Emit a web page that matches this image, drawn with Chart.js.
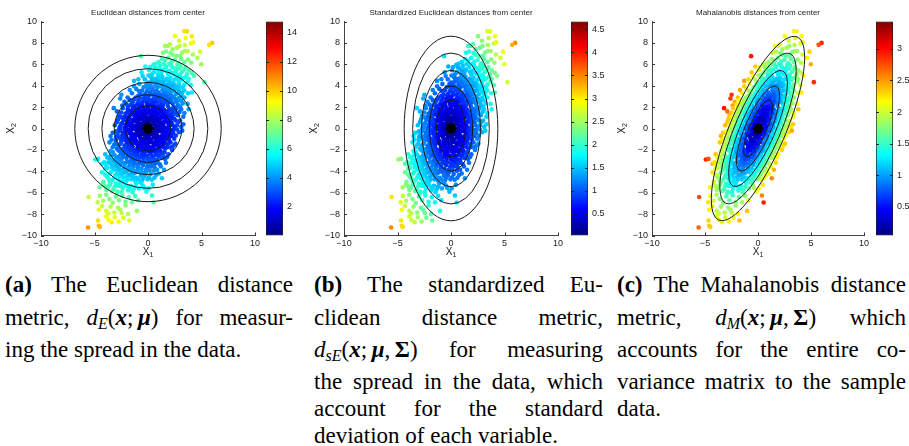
<!DOCTYPE html>
<html>
<head>
<meta charset="utf-8">
<script src="https://cdn.jsdelivr.net/npm/chart.js@4.4.0/dist/chart.umd.min.js"></script>
<style>
  body { margin: 0; background: #fff; width: 909px; height: 446px; overflow: hidden; position: relative; }
  canvas { position: absolute; top: 0; }
  .cap { position: absolute; top: 0; font-family: "Liberation Serif", "Times New Roman", serif; font-size: 23px; color: #000; }
  .cap div { position: absolute; left: 0; width: 100%; height: 26px; line-height: 26px; text-align: justify; text-align-last: justify; }
  .cap div.end { text-align-last: left; }
  .mx { display: inline-block; white-space: nowrap; }
  .m { font-style: italic; }
  .bm { font-style: italic; font-weight: bold; }
  .cap sub { font-size: 16px; vertical-align: -4px; line-height: 0; }
</style>
</head>
<body>
<canvas id="pa" width="285" height="262"></canvas>
<canvas id="pb" width="285" height="262"></canvas>
<canvas id="pc" width="285" height="262"></canvas>
<canvas id="ca" width="43" height="262"></canvas>
<canvas id="cb" width="43" height="262"></canvas>
<canvas id="cc" width="43" height="262"></canvas>

<div class="cap" style="left:5px;width:288px">
  <div style="top:272px"><b>(a)</b> The Euclidean distance</div>
  <div style="top:305px">metric, <span class="mx"><span class="m">d</span><sub class="m">E</sub>(<span class="bm">x</span>;&#8201;<span class="bm">μ</span>)</span> for measur-</div>
  <div class="end" style="top:337px">ing the spread in the data.</div>
</div>
<div class="cap" style="left:314px;width:289px">
  <div style="top:272px"><b>(b)</b> The standardized Eu-</div>
  <div style="top:305px">clidean distance metric,</div>
  <div style="top:337px"><span class="mx"><span class="m">d</span><sub class="m">sE</sub>(<span class="bm">x</span>;&#8201;<span class="bm">μ</span>,&#8201;<b>Σ</b>)</span> for measuring</div>
  <div style="top:369px">the spread in the data, which</div>
  <div style="top:396px">account for the standard</div>
  <div class="end" style="top:423px">deviation of each variable.</div>
</div>
<div class="cap" style="left:617px;width:289px">
  <div style="top:272px"><b>(c)</b> The Mahalanobis distance</div>
  <div style="top:305px">metric, <span class="mx"><span class="m">d</span><sub class="m">M</sub>(<span class="bm">x</span>;&#8201;<span class="bm">μ</span>,&#8201;<b>Σ</b>)</span> which</div>
  <div style="top:337px">accounts for the entire co-</div>
  <div style="top:369px">variance matrix to the sample</div>
  <div class="end" style="top:396px">data.</div>
</div>

<script>
// sample cloud (x1, x2)
const samples = [
  [3.4,9.1],[3.64,9.08],[2.52,8.63],[4.1,8.62],[3.52,8.45],[4.0,7.95],[4.22,8.05],[3.45,7.8],[6.0,8.0],[5.72,7.82],[2.9,8.2],
  [1.6,7.7],[1.85,7.72],[2.06,7.88],[1.7,7.2],[1.4,7.08],[2.3,7.4],[2.7,7.55],[3.2,7.1],[3.45,7.25],[3.7,7.22],[4.86,7.18],[2.95,7.7],[2.1,7.05],[4.2,6.92],
  [-0.65,6.76],[2.3,6.9],[2.65,6.78],[4.62,6.6],[1.0,6.2],[1.3,6.5],[1.6,6.35],[1.9,6.6],[2.2,6.25],[2.5,6.4],[2.85,6.1],[3.1,6.5],[3.4,6.2],[3.75,6.45],[4.05,6.15],[4.98,6.0],[0.7,6.05],[1.45,6.05],[2.0,6.05],[3.0,6.8],
  [-0.25,5.8],[0.2,5.75],[0.5,5.95],[0.8,5.6],[1.1,5.85],[1.4,5.5],[1.7,5.75],[2.0,5.4],[2.3,5.7],[2.6,5.35],[2.9,5.6],[3.2,5.3],[3.5,5.75],[3.8,5.45],[4.1,5.2],[1.25,5.2],[1.9,5.05],[2.45,5.05],[-0.6,5.25],[0.55,5.25],[3.0,5.05],[1.55,5.95],[2.75,5.95],[0.95,5.1],
  [0.1,5.45],[0.65,5.7],[1.2,5.45],[1.75,5.3],[2.15,5.9],[2.55,5.6],[3.05,5.85],[3.35,5.5],[1.0,5.35],[2.25,5.2],[0.35,5.05],[3.65,5.1],
  [-1.3,4.45],[-0.8,4.15],[-0.3,4.6],[0.0,4.3],[0.3,4.8],[0.55,4.4],[0.85,4.7],[1.1,4.2],[1.35,4.85],[1.6,4.5],[1.85,4.1],[2.1,4.75],[2.35,4.35],[2.6,4.65],[2.9,4.2],[3.15,4.55],[3.4,4.1],[3.7,4.4],[4.3,4.92],[5.27,4.33],[0.15,4.05],[0.7,4.05],[1.2,4.5],[1.95,4.45],[2.75,4.95],[3.55,4.85],[-0.5,4.9],[1.5,4.0],[2.5,4.05],[3.0,4.8],[0.4,4.55],[4.0,4.05],
  [0.05,4.95],[0.6,4.65],[1.0,4.9],[1.45,4.25],[1.75,4.65],[2.2,4.15],[2.45,4.55],[2.85,4.45],[3.3,4.7],[-0.15,4.15],[0.9,4.35],[2.0,4.3],[1.3,4.7],[-0.9,4.6],[3.8,4.65],[0.25,4.3],
  [-2.49,3.15],[-1.5,3.3],[-1.1,3.7],[-0.7,3.2],[-0.4,3.85],[-0.1,3.5],[0.15,3.1],[0.4,3.7],[0.65,3.3],[0.9,3.85],[1.1,3.15],[1.35,3.6],[1.6,3.05],[1.85,3.75],[2.1,3.35],[2.35,3.9],[2.6,3.2],[2.85,3.65],[3.1,3.1],[3.4,3.55],[3.75,3.3],[4.1,3.37],[-0.9,3.05],[-0.25,3.25],[0.3,3.95],[0.8,3.5],[1.25,3.95],[1.7,3.45],[2.2,3.05],[2.5,3.6],[3.0,3.9],[0.5,3.15],[1.45,3.3],[-0.55,3.55],[2.0,3.6],[3.25,3.8],
  [-1.3,3.95],[-0.85,3.5],[-0.35,3.05],[0.05,3.75],[0.55,3.55],[1.0,3.35],[1.55,3.8],[1.9,3.2],[2.3,3.5],[2.7,3.85],[3.2,3.35],[-1.7,3.6],[0.2,3.35],[0.75,3.95],[1.35,3.1],[2.15,3.95],[2.9,3.4],[-0.15,3.95],[0.95,3.05],[1.8,3.95],
  [-2.2,2.5],[-1.9,2.9],[-1.6,2.2],[-1.3,2.7],[-1.0,2.3],[-0.75,2.85],[-0.5,2.1],[-0.25,2.6],[0.0,2.95],[0.2,2.25],[0.45,2.7],[0.7,2.05],[0.9,2.5],[1.15,2.9],[1.4,2.2],[1.6,2.65],[1.85,2.1],[2.05,2.8],[2.3,2.35],[2.55,2.75],[2.8,2.2],[3.1,2.6],[3.4,2.9],[3.7,2.3],[-1.87,2.03],[-0.9,2.6],[-0.1,2.35],[0.6,2.9],[1.3,2.55],[1.95,2.45],[2.65,2.5],[0.3,2.55],[-0.4,2.75],[1.05,2.15],[1.75,2.95],[2.4,2.05],[-1.45,2.45],[0.8,2.75],[3.0,2.05],[0.05,2.1],
  [-2.6,2.8],[-2.0,2.25],[-1.7,2.65],[-1.15,2.9],[-0.8,2.2],[-0.55,2.45],[-0.2,2.85],[0.1,2.65],[0.4,2.15],[0.65,2.5],[1.0,2.7],[1.25,2.3],[1.5,2.95],[1.75,2.4],[2.15,2.6],[2.4,2.9],[2.75,2.6],[3.25,2.35],[-1.25,2.1],[-0.05,2.15],[0.55,2.35],[1.9,2.75],[2.9,2.85],[-2.4,2.15],[0.85,2.05],[1.45,2.5],
  [-3.2,1.9],[-2.5,1.5],[-2.2,1.1],[-1.9,1.75],[-1.65,1.3],[-1.4,1.9],[-1.15,1.05],[-0.9,1.6],[-0.65,1.2],[-0.4,1.85],[-0.15,1.4],[0.1,1.05],[0.3,1.7],[0.55,1.25],[0.8,1.9],[1.0,1.45],[1.25,1.1],[1.5,1.75],[1.75,1.3],[2.0,1.85],[2.25,1.15],[2.5,1.6],[2.8,1.25],[3.1,1.8],[3.8,1.8],[-2.0,1.05],[-1.2,1.55],[-0.5,1.05],[0.2,1.4],[0.9,1.15],[1.6,1.45],[2.3,1.5],[-0.8,1.95],[0.45,1.95],[1.35,1.95],[-2.7,1.2],[-0.3,1.6],[0.7,1.55],[1.9,1.05],[2.65,1.9],[-1.6,1.65],[0.0,1.75],[1.15,1.7],[-1.0,1.3],[3.3,1.1],
  [-2.9,1.6],[-2.35,1.9],[-2.1,1.4],[-1.75,1.05],[-1.5,1.5],[-1.3,1.25],[-1.05,1.85],[-0.75,1.4],[-0.55,1.65],[-0.25,1.15],[-0.05,1.9],[0.15,1.55],[0.4,1.15],[0.65,1.75],[0.85,1.35],[1.1,1.95],[1.35,1.35],[1.55,1.1],[1.8,1.6],[2.05,1.3],[2.35,1.85],[2.6,1.35],[2.95,1.55],[-1.9,1.5],[-0.95,1.1],[0.5,1.45],[1.25,1.55],[2.15,1.65],[-0.4,1.35],[0.95,1.8],[-2.5,1.05],[3.4,1.45],
  [-2.9,0.6],[-2.6,0.2],[-2.3,0.8],[-2.05,0.35],[-1.8,0.9],[-1.55,0.1],[-1.3,0.65],[-1.05,0.3],[-0.8,0.85],[-0.55,0.15],[-0.3,0.6],[-0.05,0.95],[0.2,0.3],[0.45,0.75],[0.7,0.1],[0.95,0.6],[1.2,0.95],[1.45,0.25],[1.7,0.7],[1.95,0.15],[2.2,0.55],[2.45,0.9],[2.7,0.3],[3.0,0.75],[3.3,0.4],[-2.68,0.0],[-1.9,0.55],[-1.2,0.95],[-0.6,0.45],[0.1,0.65],[0.6,0.4],[1.3,0.55],[1.9,0.45],[2.5,0.05],[-0.2,0.2],[0.85,0.85],[-1.6,0.45],[0.35,0.05],[1.6,0.95],[-0.95,0.1],[2.05,0.8],[-2.4,0.5],[0.55,0.95],[-0.45,0.8],[1.05,0.2],[2.85,0.6],[-1.4,0.25],[0.0,0.45],
  [-3.1,0.3],[-2.8,0.85],[-2.5,0.45],[-2.2,0.1],[-1.95,0.7],[-1.7,0.3],[-1.45,0.8],[-1.15,0.05],[-0.9,0.55],[-0.65,0.95],[-0.4,0.35],[-0.15,0.75],[0.05,0.15],[0.3,0.85],[0.5,0.5],[0.75,0.25],[1.0,0.8],[1.25,0.35],[1.5,0.6],[1.75,0.05],[2.0,0.6],[2.3,0.3],[2.6,0.75],[-2.0,0.15],[-1.05,0.7],[-0.25,0.5],[0.65,0.65],[1.4,0.05],[2.15,0.95],[-0.75,0.25],[0.2,0.9],[1.1,0.45],[-1.8,0.6],[3.1,0.15],
  [-3.3,-0.4],[-3.0,-0.8],[-2.7,-0.25],[-2.45,-0.7],[-2.2,-0.15],[-1.95,-0.95],[-1.7,-0.45],[-1.45,-0.05],[-1.2,-0.75],[-0.95,-0.3],[-0.7,-0.9],[-0.45,-0.5],[-0.2,-0.1],[0.05,-0.65],[0.3,-0.25],[0.55,-0.85],[0.8,-0.4],[1.05,-0.05],[1.3,-0.7],[1.55,-0.3],[1.8,-0.9],[2.05,-0.45],[2.3,-0.15],[2.6,-0.65],[2.9,-0.35],[-2.85,-0.55],[-2.1,-0.5],[-1.35,-0.55],[-0.6,-0.2],[0.15,-0.9],[0.9,-0.7],[1.65,-0.6],[2.45,-0.95],[-1.85,-0.2],[-0.25,-0.75],[0.45,-0.55],[1.2,-0.25],[-1.0,-0.6],[1.95,-0.1],[-2.5,-0.95],[-0.05,-0.35],[0.65,-0.15],[-1.55,-0.8],[2.2,-0.7],[-0.85,-0.05],[1.45,-0.95],[-0.35,-0.95],[3.2,-0.2],
  [-3.0,-0.25],[-2.7,-0.85],[-2.35,-0.4],[-2.05,-0.7],[-1.8,-0.15],[-1.55,-0.6],[-1.3,-0.95],[-1.05,-0.45],[-0.8,-0.7],[-0.55,-0.05],[-0.3,-0.45],[-0.1,-0.85],[0.2,-0.5],[0.4,-0.1],[0.7,-0.6],[0.95,-0.25],[1.15,-0.85],[1.4,-0.5],[1.7,-0.2],[2.0,-0.75],[2.35,-0.4],[2.7,-0.1],[-2.3,-0.9],[-1.6,-0.3],[-0.65,-0.55],[0.1,-0.3],[0.8,-0.95],[1.55,-0.75],[-1.1,-0.15],[0.55,-0.35],[-0.2,-0.6],[-2.6,-0.05],[1.85,-0.5],[-3.5,-0.7],
  [-3.6,-1.3],[-3.3,-1.75],[-3.0,-1.1],[-2.75,-1.6],[-2.5,-1.25],[-2.25,-1.9],[-2.0,-1.45],[-1.75,-1.05],[-1.5,-1.7],[-1.25,-1.3],[-1.0,-1.95],[-0.75,-1.5],[-0.5,-1.1],[-0.25,-1.8],[0.0,-1.35],[0.25,-1.05],[0.5,-1.65],[0.75,-1.25],[1.0,-1.9],[1.25,-1.45],[1.5,-1.1],[1.8,-1.75],[2.1,-1.3],[2.4,-1.6],[2.56,-1.4],[-2.9,-1.9],[-2.1,-1.1],[-1.35,-1.95],[-0.6,-1.6],[0.1,-1.7],[0.85,-1.55],[1.6,-1.4],[-1.85,-1.65],[-0.35,-1.2],[0.4,-1.3],[1.15,-1.15],[-2.6,-1.45],[-1.1,-1.15],[0.65,-1.95],[1.95,-1.05],[-0.85,-1.75],[-3.15,-1.5],[2.25,-1.95],[-1.6,-1.35],[0.2,-1.95],
  [-3.4,-1.05],[-3.05,-1.45],[-2.8,-1.85],[-2.45,-1.05],[-2.2,-1.6],[-1.95,-1.25],[-1.7,-1.9],[-1.45,-1.45],[-1.2,-1.05],[-0.95,-1.6],[-0.7,-1.2],[-0.45,-1.85],[-0.2,-1.45],[0.05,-1.1],[0.3,-1.8],[0.55,-1.35],[0.8,-1.05],[1.05,-1.65],[1.3,-1.25],[1.6,-1.85],[1.85,-1.45],[2.15,-1.75],[-2.55,-1.95],[-1.55,-1.15],[-0.5,-1.4],[0.45,-1.95],[1.4,-1.7],[-1.05,-1.4],[0.15,-1.25],[-2.0,-1.8],[0.9,-1.35],[-0.05,-1.9],
  [-4.0,-2.4],[-3.6,-2.8],[-3.3,-2.2],[-3.0,-2.65],[-2.75,-2.05],[-2.5,-2.9],[-2.25,-2.35],[-2.0,-2.75],[-1.75,-2.15],[-1.5,-2.6],[-1.25,-2.95],[-1.0,-2.3],[-0.75,-2.7],[-0.5,-2.1],[-0.25,-2.55],[0.0,-2.9],[0.25,-2.3],[0.5,-2.75],[0.75,-2.15],[1.0,-2.6],[1.3,-2.3],[1.6,-2.85],[1.9,-2.4],[2.25,-2.0],[-4.92,-2.9],[-4.67,-2.84],[-3.45,-2.5],[-2.6,-2.5],[-1.9,-2.45],[-1.1,-2.65],[-0.4,-2.85],[0.35,-2.55],[1.15,-2.05],[-2.95,-2.95],[-1.6,-2.05],[-0.6,-2.4],[0.1,-2.15],[0.85,-2.9],[-2.35,-2.05],[-1.35,-2.35],[1.45,-2.6],
  [-3.8,-2.7],[-3.5,-2.1],[-3.15,-2.45],[-2.85,-2.85],[-2.55,-2.2],[-2.3,-2.65],[-2.05,-2.1],[-1.8,-2.55],[-1.55,-2.9],[-1.3,-2.15],[-1.05,-2.5],[-0.8,-2.05],[-0.55,-2.65],[-0.3,-2.2],[-0.05,-2.55],[0.2,-2.85],[0.45,-2.1],[0.7,-2.45],[0.95,-2.15],[1.25,-2.75],[1.55,-2.2],[1.8,-2.65],[-2.7,-2.7],[-1.95,-2.25],[-1.2,-2.8],[-0.45,-2.45],[0.3,-2.05],[1.05,-2.4],[-3.3,-2.95],[-0.95,-2.9],[0.6,-2.95],[-1.65,-2.4],
  [-4.3,-3.3],[-4.0,-3.75],[-3.7,-3.15],[-3.4,-3.6],[-3.1,-3.05],[-2.85,-3.9],[-2.6,-3.4],[-2.35,-3.85],[-2.1,-3.2],[-1.85,-3.65],[-1.6,-3.1],[-1.35,-3.55],[-1.1,-3.95],[-0.85,-3.3],[-0.6,-3.75],[-0.35,-3.15],[-0.1,-3.6],[0.15,-3.9],[0.4,-3.3],[0.65,-3.7],[0.9,-3.15],[1.2,-3.55],[1.68,-3.2],[1.5,-3.85],[-3.9,-3.45],[-3.0,-3.55],[-2.2,-3.6],[-1.45,-3.35],[-0.7,-3.1],[0.0,-3.25],[0.55,-3.95],[-2.7,-3.1],[-1.95,-3.95],[-0.95,-3.7],[0.3,-3.55],
  [-4.1,-3.15],[-3.8,-3.7],[-3.5,-3.25],[-3.2,-3.85],[-2.95,-3.3],[-2.7,-3.7],[-2.45,-3.15],[-2.2,-3.35],[-1.95,-3.1],[-1.7,-3.4],[-1.45,-3.8],[-1.2,-3.25],[-0.95,-3.55],[-0.7,-3.95],[-0.45,-3.4],[-0.2,-3.85],[0.05,-3.45],[0.3,-3.05],[0.55,-3.5],[0.85,-3.85],[1.1,-3.35],[-2.5,-3.95],[-1.75,-3.85],[-0.55,-3.25],[0.7,-3.25],[-3.3,-3.4],
  [-4.3,-4.1],[-4.15,-4.97],[-3.85,-4.5],[-3.55,-4.2],[-3.3,-4.8],[-3.05,-4.35],[-2.8,-4.7],[-2.55,-4.15],[-2.3,-4.6],[-2.05,-4.95],[-1.8,-4.3],[-1.55,-4.75],[-1.3,-4.2],[-1.05,-4.6],[-0.8,-4.05],[-0.55,-4.85],[-0.3,-4.4],[-0.05,-4.75],[0.25,-4.25],[0.6,-4.6],[1.0,-4.2],[1.3,-4.65],[-3.6,-4.9],[-2.65,-4.45],[-1.95,-4.5],[-1.2,-4.9],[-0.4,-4.15],[0.1,-4.55],
  [-4.0,-4.3],[-3.7,-4.65],[-3.45,-4.05],[-3.15,-4.55],[-2.9,-4.2],[-2.65,-4.85],[-2.4,-4.3],[-2.15,-4.1],[-1.9,-4.75],[-1.65,-4.35],[-1.4,-4.55],[-1.15,-4.1],[-0.9,-4.75],[-0.65,-4.4],[-0.2,-4.1],[0.35,-4.8],[0.75,-4.35],[-2.25,-4.95],[-1.5,-4.05],[-0.45,-4.6],
  [-4.52,-5.5],[-4.2,-5.2],[-3.9,-5.75],[-3.6,-5.3],[-3.35,-5.85],[-3.1,-5.4],[-2.85,-5.9],[-2.6,-5.15],[-2.35,-5.6],[-2.1,-5.25],[-1.85,-5.8],[-1.6,-5.35],[-1.35,-5.7],[-1.1,-5.15],[-0.85,-5.6],[-0.5,-5.3],[-0.15,-5.9],[0.06,-5.6],[0.45,-5.25],[-2.45,-5.95],[-3.75,-5.55],[-1.9,-5.45],
  [-4.0,-5.4],[-3.5,-5.1],[-3.2,-5.65],[-2.75,-5.35],[-2.2,-5.05],[-1.75,-5.6],[-1.2,-5.45],[-0.7,-5.05],[-2.5,-5.4],[-1.45,-5.95],[-0.35,-5.55],[-3.0,-5.15],
  [-5.55,-6.4],[-4.5,-6.3],[-4.2,-6.75],[-3.9,-6.2],[-3.6,-6.6],[-3.3,-6.95],[-3.0,-6.35],[-2.7,-6.7],[-2.4,-6.25],[-2.1,-6.85],[-1.8,-6.4],[-1.5,-6.9],[-1.2,-6.3],[-0.9,-6.7],[0.37,-6.26],[0.53,-6.92],[-2.9,-6.05],[-4.7,-6.9],
  [-4.6,-7.6],[-4.3,-7.25],[-3.9,-7.7],[-3.5,-7.3],[-3.15,-7.85],[-2.8,-7.4],[-2.45,-7.9],[-2.1,-7.2],[-1.87,-8.0],[-1.03,-7.7],[-3.7,-7.95],[-2.6,-7.6],
  [-4.67,-8.6],[-4.6,-9.1],[-4.5,-9.2],[-3.9,-8.2],[-3.4,-8.75],[-3.1,-8.3],[-2.75,-8.7],[-2.3,-8.35],[-1.75,-8.6],[-5.6,-9.25],[-3.7,-8.55]
];

const center = [0, 0];
const covariance = [[4.43, 6.70], [6.70, 17.2]];
const contourLevels = [0.64, 0.96, 1.31, 1.70, 2.08];

const panelTitles = [
  'Euclidean distances from center',
  'Standardized Euclidean distances from center',
  'Mahalanobis distances from center'
];
const colorRanges = [[0.03, 14.78], [0.03, 4.67], [0.05, 3.43]];
const colorTicks = [
  [2, 4, 6, 8, 10, 12, 14],
  [0.5, 1, 1.5, 2, 2.5, 3, 3.5, 4, 4.5],
  [0.5, 1, 1.5, 2, 2.5, 3]
];
const xTicks = [-10, -5, 0, 5, 10];
const yTicks = [-10, -8, -6, -4, -2, 0, 2, 4, 6, 8, 10];

// layout of the three panels (pixels)
const plotLeft = [41, 344, 652];
const plotWidth = [214, 214, 212];
const cbLeft = [266, 571, 876];
const PLOT_TOP = 21.5, X_AXIS_H = 26.5, Y_AXIS_W = 41, CB_W = 17;

const FONT = '"Liberation Sans", Arial, sans-serif';

function jet(t) {
  t = Math.min(1, Math.max(0, t));
  const c = v => Math.round(255 * Math.min(1, Math.max(0, v)));
  return `rgb(${c(1.5 - Math.abs(4 * t - 3))},${c(1.5 - Math.abs(4 * t - 2))},${c(1.5 - Math.abs(4 * t - 1))})`;
}

const sx = Math.sqrt(covariance[0][0]);
const sy = Math.sqrt(covariance[1][1]);
const det = covariance[0][0] * covariance[1][1] - covariance[0][1] * covariance[1][0];
const inv = [[covariance[1][1] / det, -covariance[0][1] / det], [-covariance[1][0] / det, covariance[0][0] / det]];

const metrics = [
  (dx, dy) => Math.hypot(dx, dy),
  (dx, dy) => Math.hypot(dx / sx, dy / sy),
  (dx, dy) => Math.sqrt(dx * dx * inv[0][0] + 2 * dx * dy * inv[0][1] + dy * dy * inv[1][1])
];

// contour shapes: semi axes (a, b) and rotation for each metric
const tr = covariance[0][0] + covariance[1][1];
const disc = Math.sqrt((covariance[0][0] - covariance[1][1]) ** 2 / 4 + covariance[0][1] ** 2);
const lam1 = tr / 2 + disc, lam2 = tr / 2 - disc;
const theta = Math.atan2(lam1 - covariance[0][0], covariance[0][1]);
const isoScale = Math.sqrt(tr / 2);
const contourShapes = [
  contourLevels.map(k => ({ a: k * isoScale, b: k * isoScale, angle: 0 })),
  contourLevels.map(k => ({ a: k * sx, b: k * sy, angle: 0 })),
  contourLevels.map(k => ({ a: k * Math.sqrt(lam1), b: k * Math.sqrt(lam2), angle: theta }))
];

const fmt = v => (v < 0 ? '\u2212' + Math.abs(v) : String(v));

function drawSubLabel(ctx, main, sub, x, y, rot) {
  ctx.save();
  ctx.translate(x, y);
  ctx.rotate(rot);
  ctx.fillStyle = '#222';
  ctx.font = `10px ${FONT}`;
  const w1 = ctx.measureText(main).width;
  ctx.font = `7px ${FONT}`;
  const w2 = ctx.measureText(sub).width;
  const x0 = -(w1 + w2) / 2;
  ctx.textBaseline = 'middle';
  ctx.textAlign = 'left';
  ctx.font = `10px ${FONT}`;
  ctx.fillText(main, x0, 0);
  ctx.font = `7px ${FONT}`;
  ctx.fillText(sub, x0 + w1, 3);
  ctx.restore();
}

const panelDeco = {
  id: 'panelDeco',
  beforeDatasetDraw(chart, args, opts) {
    if (args.index !== 0) return;
    const { ctx, chartArea: ca, scales: { x, y } } = chart;
    const cx = x.getPixelForValue(center[0]);
    const cy = y.getPixelForValue(center[1]);
    ctx.save();
    ctx.beginPath();
    ctx.rect(ca.left, ca.top, ca.right - ca.left, ca.bottom - ca.top);
    ctx.clip();
    ctx.strokeStyle = '#1a1a1a';
    ctx.lineWidth = 1;
    opts.shapes.forEach(s => {
      // axis lengths measured along the rotated directions
      const ax = x.getPixelForValue(center[0] + s.a * Math.cos(s.angle)) - cx;
      const ay = cy - y.getPixelForValue(center[1] + s.a * Math.sin(s.angle));
      const bx = x.getPixelForValue(center[0] - s.b * Math.sin(s.angle)) - cx;
      const by = cy - y.getPixelForValue(center[1] + s.b * Math.cos(s.angle));
      ctx.beginPath();
      ctx.ellipse(cx, cy, Math.hypot(ax, ay), Math.hypot(bx, by), -s.angle, 0, Math.PI * 2);
      ctx.stroke();
    });
    ctx.restore();
  },
  afterDraw(chart, args, opts) {
    const { ctx, chartArea: ca, scales: { x, y } } = chart;
    ctx.save();
    ctx.strokeStyle = '#333';
    ctx.lineWidth = 1;
    ctx.beginPath();
    yTicks.forEach(v => {
      const py = Math.round(y.getPixelForValue(v)) + 0.5;
      ctx.moveTo(ca.left, py); ctx.lineTo(ca.left + 3, py);
    });
    xTicks.forEach(v => {
      const px = Math.round(x.getPixelForValue(v)) + 0.5;
      ctx.moveTo(px, ca.bottom); ctx.lineTo(px, ca.bottom - 3);
    });
    ctx.stroke();
    ctx.fillStyle = '#222';
    ctx.font = `8px ${FONT}`;
    ctx.textAlign = 'center';
    ctx.textBaseline = 'middle';
    ctx.fillText(opts.title, (ca.left + ca.right) / 2, 13);
    ctx.restore();
    drawSubLabel(ctx, 'X', '1', (ca.left + ca.right) / 2, 252, 0);
    drawSubLabel(ctx, 'X', '2', 11, (ca.top + ca.bottom) / 2, -Math.PI / 2);
  }
};

const colorbarDeco = {
  id: 'colorbarDeco',
  afterDraw(chart, args, opts) {
    const { ctx, chartArea: ca, scales: { y } } = chart;
    ctx.save();
    ctx.strokeStyle = '#222';
    ctx.lineWidth = 1;
    ctx.beginPath();
    opts.ticks.forEach(v => {
      const py = Math.round(y.getPixelForValue(v)) + 0.5;
      ctx.moveTo(ca.left, py); ctx.lineTo(ca.left + 3, py);
      ctx.moveTo(ca.right, py); ctx.lineTo(ca.right - 3, py);
    });
    ctx.stroke();
    ctx.restore();
  }
};

function tickFont() {
  return { family: FONT, size: 9 };
}

function buildPanel(i) {
  const canvas = document.getElementById(['pa', 'pb', 'pc'][i]);
  const rightPad = 30;
  canvas.width = Y_AXIS_W + plotWidth[i] + rightPad;
  canvas.style.left = (plotLeft[i] - Y_AXIS_W) + 'px';
  const [lo, hi] = colorRanges[i];
  const pts = samples.map(([px, py]) => ({ x: px, y: py }));
  const colors = samples.map(([px, py]) => jet((metrics[i](px - center[0], py - center[1]) - lo) / (hi - lo)));

  new Chart(canvas, {
    type: 'scatter',
    data: {
      datasets: [
        {
          data: [{ x: center[0], y: center[1] }],
          pointStyle: 'star', pointRadius: 5.5, borderColor: '#000', borderWidth: 2.6, backgroundColor: '#000'
        },
        {
          data: pts,
          pointRadius: 2.3, pointBorderWidth: 0, pointBackgroundColor: colors, pointBorderColor: colors
        }
      ]
    },
    options: {
      responsive: false, animation: false, devicePixelRatio: 1, events: [],
      layout: { padding: { top: PLOT_TOP, right: rightPad, bottom: 0, left: 0 } },
      plugins: {
        legend: { display: false }, tooltip: { enabled: false },
        panelDeco: { shapes: contourShapes[i], title: panelTitles[i] }
      },
      scales: {
        x: {
          type: 'linear', min: -10, max: 10,
          afterBuildTicks: s => { s.ticks = xTicks.map(v => ({ value: v })); },
          afterFit: s => { s.height = X_AXIS_H; },
          grid: { drawOnChartArea: false, drawTicks: false },
          border: { color: '#444' },
          ticks: { padding: 3, font: tickFont(), color: '#222', maxRotation: 0, callback: v => fmt(v) }
        },
        y: {
          type: 'linear', min: -10, max: 10,
          afterBuildTicks: s => { s.ticks = yTicks.map(v => ({ value: v })); },
          afterFit: s => { s.width = Y_AXIS_W; },
          grid: { drawOnChartArea: false, drawTicks: false },
          border: { color: '#444' },
          ticks: { padding: 4, font: tickFont(), color: '#222', callback: v => fmt(v) }
        }
      }
    },
    plugins: [panelDeco]
  });
}

function buildColorbar(i) {
  const canvas = document.getElementById(['ca', 'cb', 'cc'][i]);
  canvas.style.left = cbLeft[i] + 'px';
  const [lo, hi] = colorRanges[i];
  new Chart(canvas, {
    type: 'bar',
    data: {
      labels: [''],
      datasets: [{
        data: [[lo, hi]],
        backgroundColor: c => {
          const ca = c.chart.chartArea;
          if (!ca) return '#00f';
          const g = c.chart.ctx.createLinearGradient(0, ca.bottom, 0, ca.top);
          for (let s = 0; s <= 32; s++) g.addColorStop(s / 32, jet(s / 32));
          return g;
        },
        borderColor: '#222', borderWidth: 1, borderSkipped: false,
        barPercentage: 1, categoryPercentage: 1
      }]
    },
    options: {
      responsive: false, animation: false, devicePixelRatio: 1, events: [],
      layout: { padding: { top: PLOT_TOP, right: 0, bottom: X_AXIS_H, left: 0 } },
      plugins: { legend: { display: false }, tooltip: { enabled: false }, colorbarDeco: { ticks: colorTicks[i] } },
      scales: {
        x: { display: false },
        y: {
          position: 'right', min: lo, max: hi,
          afterBuildTicks: s => { s.ticks = colorTicks[i].map(v => ({ value: v })); },
          afterFit: s => { s.width = canvas.width - CB_W; },
          grid: { drawOnChartArea: false, drawTicks: false },
          border: { display: false },
          ticks: { padding: 4, font: tickFont(), color: '#222', callback: v => String(v) }
        }
      }
    },
    plugins: [colorbarDeco]
  });
}

[0, 1, 2].forEach(i => { buildPanel(i); buildColorbar(i); });
</script>
</body>
</html>
